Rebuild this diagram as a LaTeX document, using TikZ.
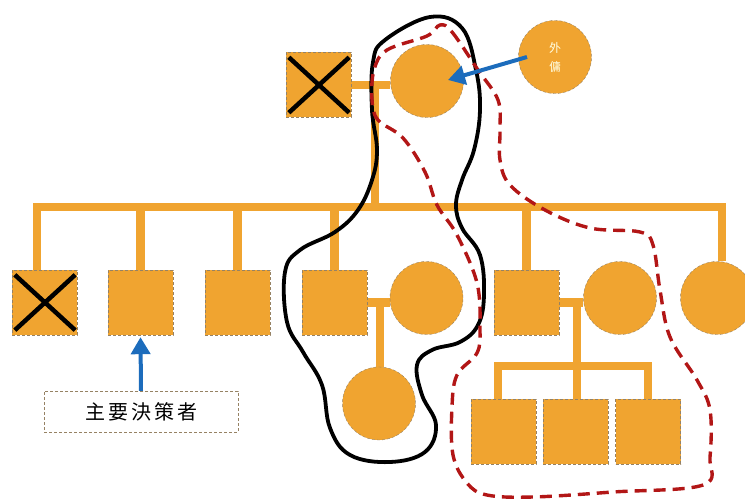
\documentclass[tikz,border=0pt]{standalone}
\usepackage{fontspec}
\newfontfamily\cjk{Noto Sans CJK TC}
\usetikzlibrary{arrows.meta,calc,backgrounds}
\definecolor{famorange}{RGB}{240,164,48}
\definecolor{edgegray}{RGB}{150,130,100}
\definecolor{arrowblue}{RGB}{28,108,188}
\definecolor{loopred}{RGB}{178,22,22}
\tikzset{
  person/.style={fill=famorange, draw=edgegray, densely dashed, line width=0.4pt, inner sep=0pt},
  male/.style={person, rectangle, minimum width=65pt, minimum height=65pt},
  female/.style={person, circle, minimum size=73pt},
  tie/.style={draw=famorange, line width=8.5pt},
  deceased/.style={draw=black, line width=4.5pt},
  pointer/.style={draw=arrowblue, line width=4pt, -{Triangle[length=17pt,width=19pt]}},
  careloop/.style={draw=black, line width=3.8pt},
  hireloop/.style={draw=loopred, line width=3.4pt, dash pattern=on 12pt off 7pt},
  tag/.style={draw=edgegray, densely dashed, line width=0.4pt, fill=white, minimum width=194pt, minimum height=41pt, font=\cjk\fontsize{20}{22}\selectfont},
  helpertext/.style={text=white!88!yellow, align=center, font=\cjk\fontsize{12}{19}\selectfont}
}
\begin{document}
\begin{tikzpicture}[x=1pt, y=-1pt]
\useasboundingbox (0,0) rectangle (745,500);

% grandparents and the live-in helper
\node[male]   (GF)  at (318.5,85) {};
\node[female] (GM)  at (427,81) {};
\node[female, helpertext] (HLP) at (555,57) {外\\傭};

% children
\node[male]   (S1) at (44.5,302.5) {};
\node[male]   (S2) at (140.5,302.5) {};
\node[male]   (S3) at (237.5,302.5) {};
\node[male]   (S4) at (334.5,302.5) {};
\node[female] (W4) at (426.5,298) {};
\node[male]   (S5) at (526.5,302.5) {};
\node[female] (W5) at (620,298) {};
\node[female] (D6) at (717,298) {};

% grandchildren
\node[female] (G1) at (379,403.5) {};
\node[male]   (G2) at (503.5,431.5) {};
\node[male]   (G3) at (575.5,431.5) {};
\node[male]   (G4) at (648,431.5) {};

% junction points of the tree
\coordinate (topmid) at (375,85);
\coordinate (barL) at (37,207);
\coordinate (barR) at (722,207);
\coordinate (barM) at (375,207);
\coordinate (cp4) at (380,302);
\coordinate (cp5) at (577,302);
\coordinate (kidbar) at (577,366);
\coordinate (kidL) at (498,366);

\begin{scope}[on background layer]
% marriage of the grandparents and the line of descent
\draw[tie] (GF.east) -- (GF.east -| GM.west);
\draw[tie] (topmid) -- (barM);
% sibling bar with its two outer drops
\draw[tie, line join=miter] (S1.north -| barL) |- (barR) -- (D6.north -| barR);
\foreach \k in {S2,S3,S4,S5}
  \draw[tie] (\k.north |- barL) -- (\k.north);
% first couple and their daughter
\draw[tie] (S4.east) -- (S4.east -| W4.west);
\draw[tie] (cp4) -- (G1.north -| cp4);
% second couple and their three sons
\draw[tie] (S5.east) -- (S5.east -| W5.west);
\draw[tie] (cp5) -- (kidbar);
\draw[tie, line join=miter] (G2.north -| kidL) |- (kidbar) -| (G4.north);
\draw[tie] (kidbar) -- (G3.north -| kidbar);
\end{scope}

% deceased marks
\foreach \k in {GF,S1} {
  \draw[deceased] ($(\k.north west)+(3,5)$) -- ($(\k.south east)+(-2,-5)$);
  \draw[deceased] ($(\k.south west)+(3,-5)$) -- ($(\k.north east)+(-2,5)$);
}

% main decision maker label
\node[tag] (DM) at (141,411.5) {主\hspace{3pt}要\hspace{3pt}決\hspace{3pt}策\hspace{3pt}者};

% care circle of the grandmother
\draw[careloop] plot[smooth cycle, tension=0.65] coordinates {
  (430,17) (462,28) (476,70) (480,110) (474,150) (462,180) (456,205)
  (462,228) (480,255) (484,295) (478,325) (460,342) (432,350) (417,365)
  (422,395) (436,425) (425,452) (390,462) (350,455) (330,428) (322,385)
  (303,352) (287,322) (285,272) (300,250) (335,232) (358,210) (372,180)
  (377,150) (372,110) (373,62) (385,40)};

% circle around the second family
\draw[hireloop] plot[smooth cycle, tension=0.6] coordinates {
  (440,25) (452,32) (478,70) (498,100) (500,130) (500,160) (510,185)
  (545,210) (590,228) (640,232) (653,245) (660,290) (670,337) (697,380)
  (710,410) (710,457) (703,485) (613,492) (533,497) (487,495) (467,483)
  (453,455) (452,407) (457,375) (477,353) (480,328) (477,283) (457,235)
  (437,205) (425,172) (403,138) (378,120) (372,100) (374,70) (387,50)
  (427,36)};

% pointers: to the decision maker, and from the helper to the grandmother
\draw[pointer] (DM.north) -- ($(S2.south)+(0,2)$);
\draw[pointer] ($(HLP.center)+(-28,0)$) -- ($(GM.center)+(21,-1)$);
\end{tikzpicture}
\end{document}
